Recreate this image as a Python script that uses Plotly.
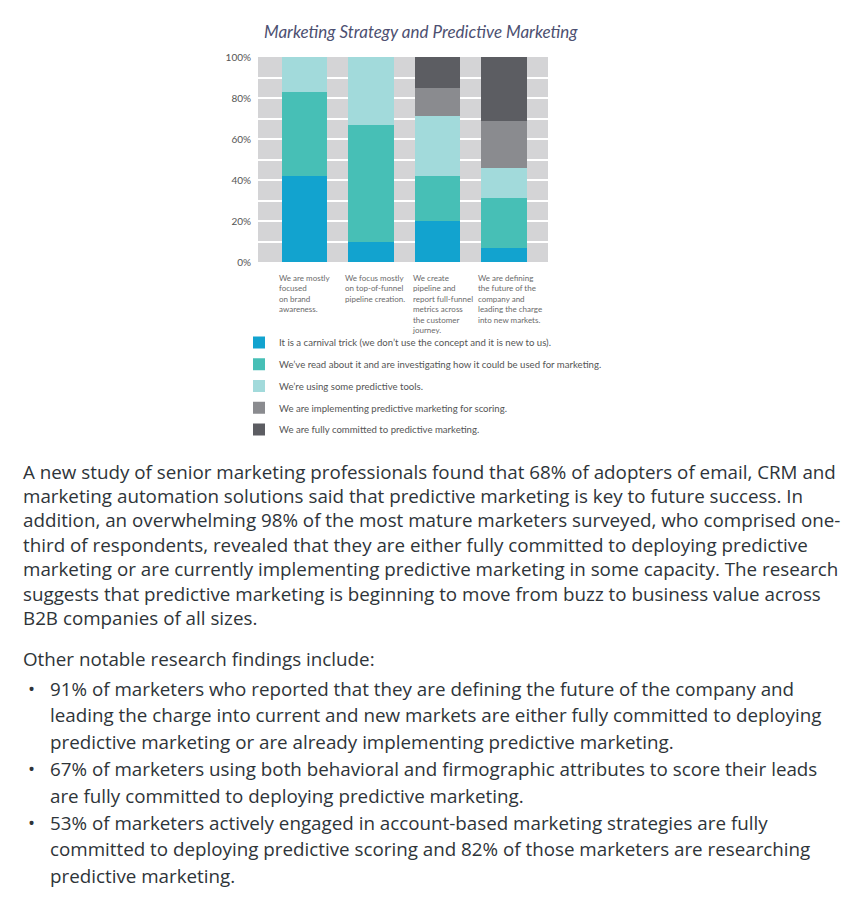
import plotly.graph_objects as go

# ---------------- data ----------------
categories = [
    "We are mostly focused on brand awareness.",
    "We focus mostly on top-of-funnel pipeline creation.",
    "We create pipeline and report full-funnel metrics across the customer journey.",
    "We are defining the future of the company and leading the charge into new markets.",
]
category_lines = [
    ["We are mostly", "focused", "on brand", "awareness."],
    ["We focus mostly", "on top-of-funnel", "pipeline creation."],
    ["We create", "pipeline and", "report full-funnel", "metrics across", "the customer", "journey."],
    ["We are defining", "the future of the", "company and", "leading the charge", "into new markets."],
]
series_names = [
    "It is a carnival trick (we don\u2019t use the concept and it is new to us).",
    "We\u2019ve read about it and are investigating how it could be used for marketing.",
    "We\u2019re using some predictive tools.",
    "We are implementing predictive marketing for scoring.",
    "We are fully committed to predictive marketing.",
]
carnival_trick = [42, 10, 20, 7]
investigating = [41, 57, 22, 24]
using_tools = [17, 33, 29, 15]
implementing = [0, 0, 14, 23]
fully_committed = [0, 0, 15, 31]
series_values = [carnival_trick, investigating, using_tools, implementing, fully_committed]
series_colors = ["#12a3cf", "#47bfb6", "#a2dadb", "#8a8b8f", "#5c5d62"]

y_tick_vals = [0, 20, 40, 60, 80, 100]
y_tick_text = ["0%", "20%", "40%", "60%", "80%", "100%"]

title_text = "Marketing Strategy and Predictive Marketing"

paragraph_lines = [
    "A new study of senior marketing professionals found that 68% of adopters of email, CRM and",
    "marketing automation solutions said that predictive marketing is key to future success. In",
    "addition, an overwhelming 98% of the most mature marketers surveyed, who comprised one-",
    "third of respondents, revealed that they are either fully committed to deploying predictive",
    "marketing or are currently implementing predictive marketing in some capacity. The research",
    "suggests that predictive marketing is beginning to move from buzz to business value across",
    "B2B companies of all sizes.",
]
findings_intro = "Other notable research findings include:"
bullet_items = [
    ["91% of marketers who reported that they are defining the future of the company and",
     "leading the charge into current and new markets are either fully committed to deploying",
     "predictive marketing or are already implementing predictive marketing."],
    ["67% of marketers using both behavioral and firmographic attributes to score their leads",
     "are fully committed to deploying predictive marketing."],
    ["53% of marketers actively engaged in account-based marketing strategies are fully",
     "committed to deploying predictive scoring and 82% of those marketers are researching",
     "predictive marketing."],
]

# ---------------- layout geometry ----------------
FIG_W, FIG_H = 850, 908
OFF = 8                 # page body margin
L, T = 258, 57          # plot area left / top (screen px)
PW, PH = 290, 205       # plot area width / height (px)
BAR_W = 0.68
LABEL_SHIFT = 0.42
x_pos = list(range(len(categories)))


def px_x(p):
    return (p - L) / PW


def px_y(p):
    return (T + PH - p) / PH


fig = go.Figure()
for name, vals, col in zip(series_names, series_values, series_colors):
    fig.add_trace(go.Bar(
        x=x_pos, y=vals, name=name, width=BAR_W,
        marker=dict(color=col, line=dict(width=0)),
        legendgroup=name,
        hovertext=categories,
    ))

annotations = []
# title
annotations.append(dict(
    text=title_text, xref="paper", yref="paper", x=px_x(421), y=px_y(31),
    xanchor="center", yanchor="middle", showarrow=False,
    font=dict(family="Lato", size=17, color="#4d5071", style="italic"),
))
# category labels
for i, lines in enumerate(category_lines):
    annotations.append(dict(
        text="<br>".join(lines), xref="x", yref="paper",
        x=x_pos[i] - LABEL_SHIFT, y=px_y(271), xanchor="left", yanchor="top",
        align="left", showarrow=False,
        font=dict(family="Lato", size=8, color="#6a6a6a"),
    ))

BODY_FONT = dict(family="Open Sans", size=18.8, color="#2e3439")
p_start, p_step = 471.5, 24.4
for k, line in enumerate(paragraph_lines):
    annotations.append(dict(
        text=line, xref="paper", yref="paper", x=px_x(21), y=px_y(p_start + k * p_step),
        xanchor="left", yanchor="middle", showarrow=False, font=BODY_FONT,
    ))
annotations.append(dict(
    text=findings_intro, xref="paper", yref="paper", x=px_x(21), y=px_y(658.5),
    xanchor="left", yanchor="middle", showarrow=False, font=BODY_FONT,
))
b_start, b_step = 688.5, 26.8
k = 0
for item in bullet_items:
    for j, line in enumerate(item):
        yy = px_y(b_start + k * b_step)
        if j == 0:
            annotations.append(dict(
                text="\u2022", xref="paper", yref="paper", x=px_x(31), y=yy,
                xanchor="center", yanchor="middle", showarrow=False, font=BODY_FONT,
            ))
        annotations.append(dict(
            text=line, xref="paper", yref="paper", x=px_x(48), y=yy,
            xanchor="left", yanchor="middle", showarrow=False, font=BODY_FONT,
        ))
        k += 1

fig.update_layout(
    width=FIG_W, height=FIG_H,
    margin=dict(l=L - OFF, r=FIG_W - L - PW + OFF, t=T - OFF, b=FIG_H - T - PH + OFF, pad=0),
    paper_bgcolor="white",
    plot_bgcolor="#d4d4d6",
    barmode="stack",
    font=dict(family="Lato", color="#555555"),
    xaxis=dict(range=[-0.7, 3.66], showticklabels=False, showgrid=False,
               zeroline=False, showline=False, ticks=""),
    yaxis=dict(range=[0, 100], tickvals=y_tick_vals, ticktext=y_tick_text,
               showgrid=True, gridcolor="white", gridwidth=2,
               minor=dict(dtick=10, showgrid=True, gridcolor="white", gridwidth=2),
               zeroline=False, showline=False, ticks="",
               tickfont=dict(family="Lato", size=10, color="#555555"),
               ticklabelstandoff=6),
    showlegend=True,
    legend=dict(
        x=px_x(239), y=px_y(328), xanchor="left", yanchor="top",
        orientation="v", traceorder="grouped", tracegroupgap=2.75,
        font=dict(family="Lato", size=9.6, color="#555555"),
        bgcolor="rgba(0,0,0,0)", borderwidth=0, itemwidth=30,
    ),
    annotations=annotations,
)

fig.write_html("out.html")
